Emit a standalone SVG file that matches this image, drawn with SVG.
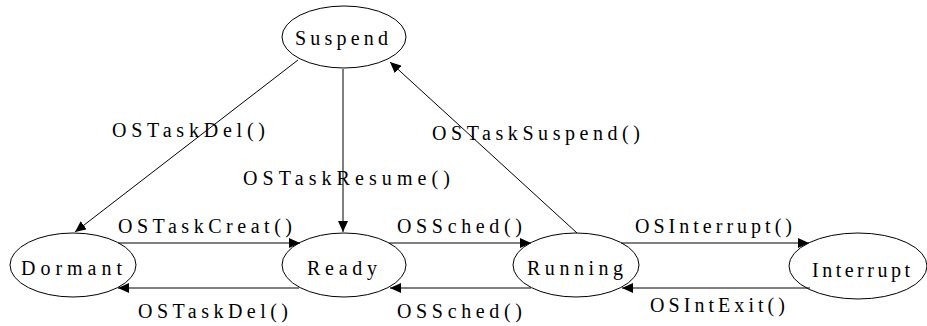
<svg xmlns="http://www.w3.org/2000/svg" width="927" height="326" viewBox="0 0 927 326">
<style>
.node ellipse{fill:none;stroke:#000;stroke-width:1}
text{font-family:"Liberation Serif","Times New Roman",serif;font-size:20px;fill:#000}
.edges line{stroke:#000;stroke-width:1;marker-end:url(#ah)}
</style>
<defs>
<marker id="ah" markerUnits="userSpaceOnUse" markerWidth="12" markerHeight="10" refX="11" refY="5" orient="auto">
<path d="M0,0 L11,5 L0,10 Z" fill="#000"/>
</marker>
</defs>
<g class="edges">
<line x1="298" y1="60" x2="75" y2="232"/>
<line x1="343" y1="69" x2="343" y2="232"/>
<line x1="577" y1="233" x2="390" y2="62"/>
<line x1="118" y1="243" x2="300" y2="243"/>
<line x1="299" y1="288" x2="118" y2="288"/>
<line x1="389" y1="243" x2="531" y2="243"/>
<line x1="531" y1="288" x2="390" y2="288"/>
<line x1="621" y1="243" x2="809" y2="243"/>
<line x1="810" y1="288" x2="622" y2="288"/>
<text x="112" y="137" textLength="153" lengthAdjust="spacing">OSTaskDel()</text>
<text x="243" y="185" textLength="207" lengthAdjust="spacing">OSTaskResume()</text>
<text x="432" y="140" textLength="208" lengthAdjust="spacing">OSTaskSuspend()</text>
<text x="118" y="233" textLength="174" lengthAdjust="spacing">OSTaskCreat()</text>
<text x="138" y="318" textLength="150" lengthAdjust="spacing">OSTaskDel()</text>
<text x="397" y="233" textLength="125" lengthAdjust="spacing">OSSched()</text>
<text x="397" y="318" textLength="125" lengthAdjust="spacing">OSSched()</text>
<text x="635" y="233" textLength="157" lengthAdjust="spacing">OSInterrupt()</text>
<text x="650" y="312" textLength="135" lengthAdjust="spacing">OSIntExit()</text>
</g>
<g id="suspend" class="node"><ellipse cx="344" cy="37" rx="62" ry="31"/><text x="295" y="45" textLength="93" lengthAdjust="spacing">Suspend</text></g>
<g id="dormant" class="node"><ellipse cx="73" cy="265" rx="63" ry="32"/><text x="21" y="275" textLength="101" lengthAdjust="spacing">Dormant</text></g>
<g id="ready" class="node"><ellipse cx="344" cy="265" rx="62" ry="32"/><text x="307" y="275" textLength="70" lengthAdjust="spacing">Ready</text></g>
<g id="running" class="node"><ellipse cx="576" cy="265" rx="63" ry="32"/><text x="527" y="275" textLength="96" lengthAdjust="spacing">Running</text></g>
<g id="interrupt" class="node"><ellipse cx="858" cy="266" rx="69" ry="33"/><text x="812" y="277" textLength="98" lengthAdjust="spacing">Interrupt</text></g>
</svg>
